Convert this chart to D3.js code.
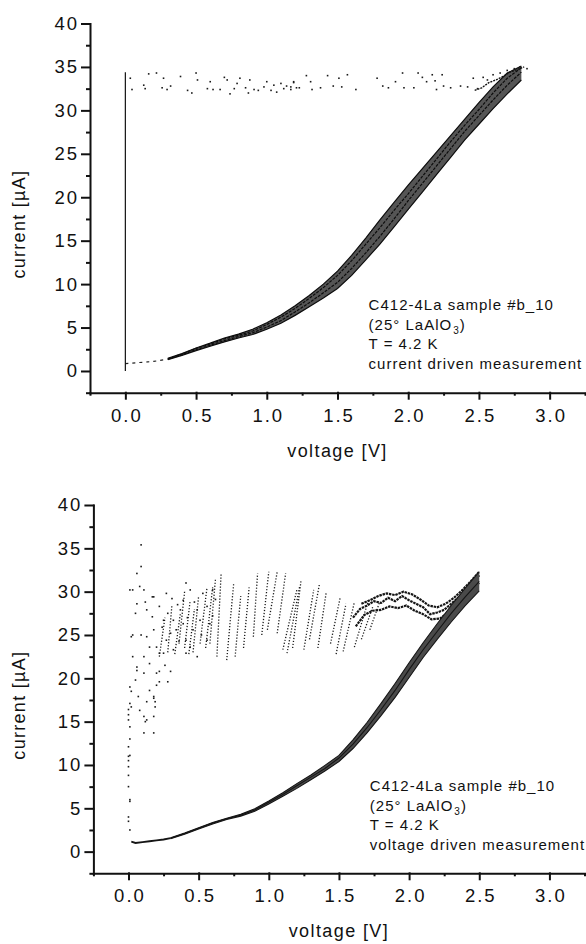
<!DOCTYPE html>
<html>
<head>
<meta charset="utf-8">
<script src="https://cdn.jsdelivr.net/npm/d3@7"></script>
<style>
  body { margin: 0; background: #fff; }
  svg text { font-family: "Liberation Sans", Arial, Helvetica, sans-serif; fill: #111; }
</style>
</head>
<body>
<svg id="chart" width="586" height="944"></svg>
<script>
// ---- axis ticks ----
const xTicks = [0, 0.5, 1, 1.5, 2, 2.5, 3];
const xMinor = [-0.25, 0.25, 0.75, 1.25, 1.75, 2.25, 2.75, 3.25];
const yTicks = [0, 5, 10, 15, 20, 25, 30, 35, 40];
const yMinor = [-2.5, 2.5, 7.5, 12.5, 17.5, 22.5, 27.5, 32.5, 37.5];

// ---- annotation text ----
const noteSample = "C412-4La sample #b_10";
const noteFilm = ["(25° LaAlO", "3", ")"];
const noteTemp = "T = 4.2 K";
const noteModeTop = "current driven measurement";
const noteModeBottom = "voltage driven measurement";

// ---- top panel: current driven ----
const topVolts = [0.3, 0.4, 0.5, 0.6, 0.7, 0.8, 0.9, 1.0, 1.1, 1.2, 1.3, 1.4, 1.5,
                  1.6, 1.7, 1.8, 1.9, 2.0, 2.1, 2.2, 2.3, 2.4, 2.5, 2.6, 2.7, 2.8];
const topSweep1 = [1.45, 2.0, 2.65, 3.2, 3.8, 4.25, 4.8, 5.55, 6.45, 7.5, 8.7, 10.0, 11.5,
                   13.3, 15.3, 17.4, 19.4, 21.4, 23.3, 25.2, 27.1, 29.0, 30.9, 32.7, 34.3, 35.1];
const topSweep2 = [1.4, 1.95, 2.6, 3.1, 3.7, 4.1, 4.6, 5.35, 6.2, 7.2, 8.35, 9.6, 11.0,
                   12.7, 14.6, 16.5, 18.5, 20.4, 22.4, 24.4, 26.4, 28.3, 30.1, 32.0, 33.7, 34.9];
const topSweep3 = [1.35, 1.85, 2.45, 2.95, 3.5, 3.95, 4.4, 5.05, 5.8, 6.8, 7.85, 9.0, 10.2,
                   11.8, 13.6, 15.5, 17.5, 19.6, 21.6, 23.6, 25.6, 27.6, 29.4, 31.2, 32.9, 34.4];
const topSweep4 = [1.3, 1.8, 2.35, 2.85, 3.35, 3.8, 4.2, 4.8, 5.5, 6.4, 7.4, 8.4, 9.5,
                   11.0, 12.8, 14.6, 16.6, 18.6, 20.6, 22.6, 24.6, 26.6, 28.4, 30.2, 31.9, 33.5];
const topTailV = [0, 0.04, 0.08, 0.12, 0.16, 0.2, 0.24, 0.28];
const topTailI = [0.85, 0.9, 0.95, 1.0, 1.05, 1.1, 1.2, 1.3];
const topJumpV = [0, 0];
const topJumpI = [0, 34.4];
const topReturnV = [2.47, 2.52, 2.57, 2.62, 2.67, 2.72, 2.77, 2.82];
const topReturnI = [32.3, 32.6, 33.2, 33.5, 33.9, 34.4, 34.7, 35.0];
const topScatter = [
  [0.035, 33.7], [0.047, 32.4], [0.13, 32.9], [0.14, 32.5], [0.165, 34.2], [0.22, 34.3],
  [0.27, 33.7], [0.26, 32.6], [0.295, 32.4], [0.32, 32.8], [0.39, 33.9], [0.44, 32.3],
  [0.47, 32.0], [0.50, 34.3], [0.51, 33.5], [0.58, 32.5], [0.60, 33.3], [0.62, 32.4],
  [0.67, 32.4], [0.70, 33.8], [0.72, 33.5], [0.74, 31.9], [0.77, 32.5], [0.79, 33.1],
  [0.81, 33.7], [0.85, 32.6], [0.87, 32.0], [0.88, 33.5], [0.91, 32.4], [0.94, 32.3],
  [0.98, 32.7], [1.00, 33.3], [1.03, 32.3], [1.05, 32.9], [1.07, 32.1], [1.10, 33.1],
  [1.12, 32.5], [1.14, 32.8], [1.17, 32.4], [1.19, 33.3], [1.21, 32.6], [1.17, 32.7],
  [1.19, 33.2], [1.23, 32.6], [1.28, 34.0], [1.31, 33.3], [1.32, 32.4], [1.38, 32.6],
  [1.43, 34.0], [1.47, 32.8], [1.51, 33.7], [1.53, 32.7], [1.57, 34.1], [1.63, 32.4],
  [1.78, 33.7], [1.82, 32.8], [1.86, 32.6], [1.91, 33.3], [1.96, 34.3], [1.97, 32.6],
  [2.04, 32.6], [2.07, 34.3], [2.10, 33.8], [2.13, 33.3], [2.17, 34.1], [2.19, 33.4],
  [2.20, 32.4], [2.24, 34.1], [2.25, 32.8], [2.30, 32.6], [2.37, 32.8], [2.42, 32.7],
  [2.46, 33.7], [2.49, 32.5], [2.53, 33.8], [2.56, 33.5], [2.60, 34.1], [2.65, 34.3],
  [2.70, 34.6], [2.75, 34.8], [2.79, 35.0], [2.84, 34.8]
];

// ---- bottom panel: voltage driven ----
const botVolts = [0.3, 0.4, 0.5, 0.6, 0.7, 0.8, 0.9, 1.0, 1.1, 1.2, 1.3, 1.4,
                  1.5, 1.6, 1.7, 1.8, 1.9, 2.0, 2.1, 2.2, 2.3, 2.4, 2.5];
const botSweep1 = [1.6, 2.15, 2.75, 3.35, 3.85, 4.3, 4.95, 5.85, 6.8, 7.85, 8.85, 9.95,
                   11.1, 12.9, 14.9, 17.1, 19.4, 21.8, 24.1, 26.3, 28.4, 30.4, 32.3];
const botSweep2 = [1.55, 2.1, 2.7, 3.3, 3.8, 4.2, 4.8, 5.7, 6.6, 7.6, 8.6, 9.6,
                   10.8, 12.4, 14.3, 16.4, 18.6, 21.0, 23.3, 25.4, 27.5, 29.4, 31.2];
const botSweep3 = [1.5, 2.0, 2.6, 3.2, 3.7, 4.1, 4.65, 5.5, 6.4, 7.3, 8.3, 9.3,
                   10.4, 11.9, 13.7, 15.7, 17.8, 20.1, 22.4, 24.5, 26.5, 28.4, 30.1];
const botTailV = [0.02, 0.05, 0.1, 0.15, 0.2, 0.25, 0.3];
const botTailI = [1.15, 1.0, 1.1, 1.2, 1.3, 1.4, 1.55];
const botUpper1 = [[1.60, 27.0], [1.65, 28.0], [1.70, 28.4], [1.75, 28.9], [1.80, 28.7], [1.85, 29.3],
                   [1.90, 28.9], [1.95, 29.5], [2.00, 29.0], [2.05, 28.6], [2.10, 28.2], [2.15, 27.4],
                   [2.20, 27.6], [2.25, 27.9], [2.30, 28.6], [2.35, 29.3], [2.40, 30.1], [2.45, 30.9], [2.50, 31.9]];
const botUpper2 = [[1.62, 26.0], [1.68, 27.3], [1.74, 27.8], [1.80, 27.9], [1.86, 28.3], [1.92, 28.1],
                   [1.98, 28.4], [2.04, 27.8], [2.10, 27.4], [2.16, 26.8], [2.22, 26.9], [2.28, 27.6],
                   [2.34, 28.3], [2.40, 29.3], [2.46, 30.3], [2.50, 31.0]];
const botUpper3 = [[1.66, 28.6], [1.72, 29.0], [1.78, 29.5], [1.84, 29.8], [1.90, 29.6], [1.96, 30.0],
                   [2.02, 29.7], [2.08, 29.1], [2.14, 28.4], [2.20, 28.2], [2.26, 28.6], [2.32, 29.3],
                   [2.38, 30.2], [2.44, 31.2], [2.50, 32.3]];
// stripes: [V at bottom, V at top, I bottom, I top]
const botStripes = [
  [0.22, 0.26, 22.5, 27.0], [0.28, 0.31, 23.0, 28.5], [0.33, 0.37, 22.8, 27.5], [0.36, 0.40, 24.0, 30.0],
  [0.40, 0.44, 23.5, 29.0], [0.43, 0.47, 22.8, 28.0], [0.46, 0.50, 23.0, 29.5], [0.51, 0.56, 24.0, 30.5],
  [0.55, 0.60, 23.5, 30.5], [0.58, 0.62, 24.0, 31.5], [0.63, 0.66, 22.5, 32.0], [0.70, 0.75, 22.1, 31.0],
  [0.76, 0.80, 22.5, 29.5], [0.82, 0.86, 23.5, 30.5], [0.89, 0.92, 24.8, 32.1], [0.95, 1.00, 25.0, 32.3],
  [0.99, 1.06, 25.6, 32.3], [1.06, 1.12, 25.2, 32.1], [1.10, 1.20, 23.3, 30.2], [1.13, 1.22, 22.9, 30.6],
  [1.17, 1.23, 23.5, 31.3], [1.25, 1.32, 23.3, 30.2], [1.29, 1.36, 24.5, 30.8], [1.35, 1.41, 23.5, 30.0],
  [1.44, 1.51, 24.0, 29.4], [1.48, 1.55, 22.8, 28.6], [1.53, 1.61, 23.1, 28.8], [1.61, 1.71, 23.6, 29.0],
  [1.66, 1.74, 24.5, 28.2], [1.72, 1.79, 25.6, 28.8]
];
const botScatter = [
  [0, 15.8], [0, 15.2], [0.01, 14.4], [0, 12.1], [0, 11.0], [0.01, 11.1], [0, 9.8], [0, 8.8],
  [0, 7.5], [0.01, 6.0], [0, 4.0], [0, 3.5], [0.01, 2.5], [0.01, 13.0], [0, 10.5], [0.01, 5.8],
  [0, 16.4], [0.01, 17.1], [0.02, 18.5], [0.01, 19.0], [0.05, 19.8], [0.06, 21.3], [0.06, 20.9],
  [0.11, 15.6], [0.12, 15.0], [0.18, 13.7], [0.11, 13.7], [0.13, 15.2], [0.18, 15.6], [0.19, 16.7],
  [0.18, 17.7], [0.19, 17.3], [0.08, 16.3], [0.15, 18.6], [0.2, 19.2], [0.22, 19.6], [0.28, 19.6],
  [0.02, 16.7], [0.13, 17.3], [0.07, 17.9], [0.2, 20.6], [0.22, 20.8], [0.11, 22.5], [0.15, 23.6],
  [0.25, 22.9], [0.30, 20.8], [0.41, 22.9], [0.15, 21.7], [0.26, 21.5], [0.11, 20.6], [0.18, 17.9],
  [0.09, 35.4], [0.09, 32.9], [0.06, 32.1], [0.03, 30.2], [0.08, 30.6], [0.11, 30.2], [0.05, 27.5],
  [0.06, 28.6], [0.12, 28.8], [0.18, 29.4], [0.13, 27.9], [0.17, 27.1], [0.22, 28.3], [0.25, 26.7],
  [0.27, 29.8], [0.18, 25.6], [0.30, 25.2], [0.13, 24.8], [0.02, 24.8], [0.03, 22.5], [0.2, 23.6],
  [0.22, 22.9], [0.32, 23.3], [0.41, 31.0], [0.44, 30.2], [0.37, 27.9], [0.39, 26.3], [0.41, 24.4],
  [0.46, 25.6], [0.51, 26.7], [0.56, 28.3], [0.53, 29.8], [0.49, 27.9], [0.34, 25.6], [0.32, 26.7],
  [0.44, 23.6], [0.49, 22.5], [0.56, 24.4], [0.58, 26.3], [0.27, 24.4], [0.39, 29.0], [0.01, 30.2],
  [0.03, 25.0], [0.17, 29.4], [0.09, 25.0], [0.28, 27.5], [0.35, 28.5], [0.24, 25.9], [0.31, 29.2],
  [0.36, 24.3], [0.42, 27.0], [0.47, 28.8], [0.52, 25.0], [0.60, 30.2], [0.60, 27.2], [0.62, 29.1]
];

const svg = d3.select("#chart");

function drawPanel(cfg) {
  const g = svg.append("g");
  const x = d3.scaleLinear().domain([-0.25, 3.25]).range([cfg.left, cfg.right]);
  const y = d3.scaleLinear().domain([-2.5, 40]).range([cfg.bottom, cfg.top]);
  const line = d3.line().x(d => x(d[0])).y(d => y(d[1]));

  // minor ticks first, then major axis on top
  g.append("g").attr("transform", `translate(0,${cfg.bottom})`)
    .call(d3.axisBottom(x).tickValues(xMinor).tickSize(3).tickSizeOuter(0).tickFormat(""))
    .call(a => a.select(".domain").remove());
  g.append("g").attr("transform", `translate(${cfg.left},0)`)
    .call(d3.axisLeft(y).tickValues(yMinor).tickSize(4).tickSizeOuter(0).tickFormat(""))
    .call(a => a.select(".domain").remove());

  const xAxis = g.append("g").attr("transform", `translate(0,${cfg.bottom})`)
    .call(d3.axisBottom(x).tickValues(xTicks).tickSize(6).tickSizeOuter(0)
      .tickPadding(10).tickFormat(d3.format(".1f")));
  const yAxis = g.append("g").attr("transform", `translate(${cfg.left},0)`)
    .call(d3.axisLeft(y).tickValues(yTicks).tickSize(8).tickSizeOuter(0)
      .tickPadding(3).tickFormat(d3.format("d")));

  [xAxis, yAxis].forEach(a => {
    a.selectAll("path, line").attr("stroke", "#111").attr("stroke-width", 2)
      .attr("stroke-linecap", "square");
    a.selectAll("text").attr("font-size", 18.5).attr("letter-spacing", 2)
      .attr("fill", "#111").attr("font-family", null);
  });
  xAxis.selectAll("text").attr("dx", 1);
  g.selectAll(".tick line").attr("stroke", "#111").attr("stroke-width", 2);

  // axis titles
  g.append("text")
    .attr("x", (cfg.left + cfg.right) / 2)
    .attr("y", cfg.bottom + 64)
    .attr("text-anchor", "middle")
    .attr("font-size", 18).attr("letter-spacing", 1.4)
    .text("voltage [V]");
  g.append("text")
    .attr("transform", `translate(25,${(cfg.top + cfg.bottom) / 2 + 16}) rotate(-90)`)
    .attr("text-anchor", "middle")
    .attr("font-size", 18).attr("letter-spacing", 1.3)
    .text("current [µA]");

  // data
  const marks = g.append("g");
  cfg.draw(marks, x, y, line);

  // annotation block
  const nx = x(1.72), n0 = y(0);
  const note = g.append("g").attr("font-size", 15).attr("letter-spacing", 1.0);
  note.append("text").attr("x", nx).attr("y", n0 - 61).text(noteSample);
  const film = note.append("text").attr("x", nx).attr("y", n0 - 41);
  film.append("tspan").text(noteFilm[0]);
  film.append("tspan").attr("font-size", 10).attr("dy", 4).attr("dx", 1).text(noteFilm[1]);
  film.append("tspan").attr("dy", -4).text(noteFilm[2]);
  note.append("text").attr("x", nx).attr("y", n0 - 21.5).text(noteTemp);
  note.append("text").attr("x", nx).attr("y", n0 - 1.7).text(cfg.mode);
}

function dots(sel, data, x, y, size) {
  sel.append("g").selectAll("rect").data(data).join("rect")
    .attr("x", d => x(d[0]) - size / 2)
    .attr("y", d => y(d[1]) - size / 2)
    .attr("width", size).attr("height", size)
    .attr("fill", "#1a1a1a");
}

// filled band between an upper and a lower sweep sharing the same voltages
function band(sel, volts, hi, lo, x, y, fill) {
  const area = d3.area().x(d => x(d[0])).y0(d => y(d[2])).y1(d => y(d[1]));
  sel.append("path").datum(d3.zip(volts, hi, lo))
    .attr("d", area).attr("fill", fill).attr("stroke", "none");
}

drawPanel({
  left: 90, right: 585, top: 23.5, bottom: 392.7,
  mode: noteModeTop,
  draw: (m, x, y, line) => {
    band(m, topVolts, topSweep1, topSweep4, x, y, "#555");
    [topSweep1, topSweep2, topSweep3, topSweep4].forEach((s, k) => {
      m.append("path").datum(d3.zip(topVolts, s))
        .attr("d", line).attr("fill", "none")
        .attr("stroke", "#0d0d0d").attr("stroke-width", 1.2)
        .attr("stroke-dasharray", k === 0 || k === 3 ? null : "3,1.2");
    });
    m.append("path").datum(d3.zip(topReturnV, topReturnI))
      .attr("d", line).attr("fill", "none")
      .attr("stroke", "#151515").attr("stroke-width", 1.4).attr("stroke-dasharray", "2,1");
    m.append("path").datum(d3.zip(topTailV, topTailI))
      .attr("d", line).attr("fill", "none")
      .attr("stroke", "#222").attr("stroke-width", 1.2).attr("stroke-dasharray", "3,4");
    m.append("path").datum(d3.zip(topJumpV, topJumpI))
      .attr("d", line).attr("fill", "none")
      .attr("stroke", "#111").attr("stroke-width", 1.2);
    dots(m, topScatter, x, y, 1.6);
  }
});

drawPanel({
  left: 93.4, right: 584.5, top: 505, bottom: 873.3,
  mode: noteModeBottom,
  draw: (m, x, y, line) => {
    m.append("g").selectAll("line").data(botStripes).join("line")
      .attr("x1", d => x(d[0])).attr("y1", d => y(d[2]))
      .attr("x2", d => x(d[1])).attr("y2", d => y(d[3]))
      .attr("stroke", "#1a1a1a").attr("stroke-width", 1.3)
      .attr("stroke-dasharray", "1.2,1.8");
    [botUpper1, botUpper2, botUpper3].forEach(s => {
      m.append("path").datum(s).attr("d", line).attr("fill", "none")
        .attr("stroke", "#151515").attr("stroke-width", 2.2).attr("stroke-dasharray", "2.5,0.8");
    });
    band(m, botVolts, botSweep1, botSweep3, x, y, "#4a4a4a");
    [botSweep1, botSweep2, botSweep3].forEach(s => {
      m.append("path").datum(d3.zip(botVolts, s))
        .attr("d", line).attr("fill", "none")
        .attr("stroke", "#151515").attr("stroke-width", 1.1);
    });
    m.append("path").datum(d3.zip(botTailV, botTailI))
      .attr("d", line).attr("fill", "none")
      .attr("stroke", "#151515").attr("stroke-width", 1.8);
    dots(m, botScatter, x, y, 1.6);
  }
});
</script>
</body>
</html>
